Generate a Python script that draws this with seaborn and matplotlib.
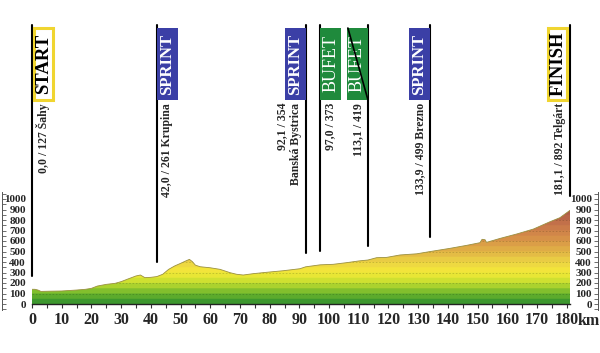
import numpy as np
import matplotlib.pyplot as plt
import seaborn as sns
from matplotlib.colors import LinearSegmentedColormap, ListedColormap, BoundaryNorm
from matplotlib.patches import Rectangle, PathPatch
from matplotlib.ticker import MultipleLocator

sns.set_theme(style="white")
plt.rcParams['font.family'] = ['Liberation Serif', 'DejaVu Serif']

# --- dados do perfil ---
km = [0, 1, 2, 3, 6, 10, 15, 18, 20, 22, 25, 28, 30, 32, 35, 36.5, 38, 40, 42,
      44, 46, 48, 50, 52, 53, 54, 55, 56.6, 60, 63.3, 66.7, 68.9, 71.1, 74.5,
      79, 84.6, 90.2, 92.1, 97, 101.4, 106, 110, 113.1, 116, 119.4, 123.9,
      129.5, 133.9, 140.7, 146.4, 150.8, 151.5, 152.5, 153, 157.6, 163.2,
      168.8, 174.4, 177.7, 181.1]
elev = [140, 140, 133, 120, 122, 124, 133, 140, 149, 171, 187, 197, 213, 235,
        267, 276, 251, 254, 261, 283, 330, 362, 387, 413, 425, 403, 370, 355,
        345, 330, 298, 283, 276, 289, 302, 317, 336, 354, 373, 378, 394, 410,
        419, 441, 444, 467, 478, 499, 530, 559, 584, 616, 612, 587, 625, 667,
        714, 784, 822, 892]

point_km = [0.0, 42.0, 92.1, 97.0, 113.1, 133.9, 181.1]
point_elev = [127, 261, 354, 373, 419, 499, 892]
point_kind = ['START', 'SPRINT', 'SPRINT', 'BUFET', 'BUFET', 'SPRINT', 'FINISH']
point_label = ['0,0 / 127 Šahy', '42,0 / 261 Krupina', '92,1 / 354\nBanská Bystrica',
               '97,0 / 373', '113,1 / 419', '133,9 / 499 Brezno', '181,1 / 892 Telgárt']
point_side = [1, 1, -1, 1, -1, -1, -1]

x_ticks = list(range(0, 181, 10))
y_ticks = list(range(0, 1001, 100))

# --- layout em pixels (600x353) ---
W, H = 600, 353
fig = plt.figure(figsize=(W / 100, H / 100), dpi=100)
fig.patch.set_facecolor('white')

x0, x1 = 32, 570        # 0 km .. 181.1 km
y0, y1 = 304, 199       # 0 m .. 1000 m
ax = fig.add_axes([x0 / W, (H - y0) / H, (x1 - x0) / W, (y0 - y1) / H])
ax.set_facecolor('none')

def py(ypx):
    # pixel vertical -> metros
    return (y0 - ypx) / ((y0 - y1) / 1000)

kmpx = (x1 - x0) / km[-1]

# preenchimento em faixas de altitude
anchors = ['#2f8f2f', '#6cb52c', '#c4de30', '#f5ea38', '#ecd444', '#e2b446',
           '#da9848', '#cf814a', '#bf6c4a', '#ab5a48', '#9a4e44']
base = LinearSegmentedColormap.from_list('perfil', anchors)
band_cmap = ListedColormap([base((i + 0.5) / 20) for i in range(20)])
levels = np.arange(0, 1001, 50)

poly = ax.fill_between(km, elev, 0, color='none', lw=0)
clip = PathPatch(poly.get_paths()[0], transform=ax.transData,
                 facecolor='none', edgecolor='none')
ax.add_patch(clip)
grad = np.linspace(0, 1000, 1000).reshape(-1, 1)
img = ax.imshow(grad, extent=[0, km[-1], 0, 1000], origin='lower', aspect='auto',
                cmap=band_cmap, norm=BoundaryNorm(levels, band_cmap.N), zorder=1)
img.set_clip_path(clip)
for lv in range(100, 1000, 100):
    ln = ax.axhline(lv, color='#000000', alpha=0.18, lw=0.6, ls=(0, (2, 2)), zorder=2)
    ln.set_clip_path(clip)

sns.lineplot(x=km, y=elev, ax=ax, color='#9a9040', lw=0.6, zorder=3)

ax.set_xlim(0, km[-1])
ax.set_ylim(0, 1000)
for s in ['left', 'right', 'top']:
    ax.spines[s].set_visible(False)
ax.spines['bottom'].set_color('#222222')
ax.spines['bottom'].set_linewidth(1.0)
ax.set_yticks([])
ax.set_xticks(x_ticks)
ax.set_xticklabels([str(t) for t in x_ticks], fontsize=11.5, fontweight='bold')
ax.xaxis.set_minor_locator(MultipleLocator(5))
ax.tick_params(axis='x', which='both', bottom=True, direction='out', length=3,
               width=0.8, color='#333333', pad=3)
fig.text(578 / W, (H - 321) / H, 'km', fontsize=11.5, fontweight='bold',
         ha='left', va='center')

# --- réguas laterais ---
ry0, ry1 = 310, 192
for side, xpx in [('left', 1.5), ('right', 597.5)]:
    r = fig.add_axes([xpx / W, (H - ry0) / H, 0.0001, (ry0 - ry1) / H])
    r.set_facecolor('none')
    r.set_ylim(py(ry0), py(ry1))
    r.set_xticks([])
    r.set_yticks(y_ticks)
    r.yaxis.set_minor_locator(MultipleLocator(50))
    for s in ['top', 'bottom', 'left', 'right']:
        r.spines[s].set_visible(False)
    if side == 'left':
        r.yaxis.tick_right()
        r.spines['right'].set_visible(True)
        r.spines['right'].set_color('#555555')
        r.spines['right'].set_linewidth(0.7)
        r.tick_params(axis='y', which='both', direction='out', length=3,
                      width=0.6, color='#555555', pad=14.5)
        for lab in r.get_yticklabels():
            lab.set_horizontalalignment('right')
    else:
        r.yaxis.tick_left()
        r.spines['left'].set_visible(True)
        r.spines['left'].set_color('#555555')
        r.spines['left'].set_linewidth(0.7)
        r.tick_params(axis='y', which='both', direction='out', length=3,
                      width=0.6, color='#555555', pad=1)
    r.set_yticklabels([str(t) for t in y_ticks], fontsize=8, fontweight='bold')

# --- marcadores ---
box_colors = {'START': 'white', 'FINISH': 'white', 'SPRINT': '#3b3fa6', 'BUFET': '#1f8a3c'}
box_top, box_bot = py(28), py(100)
line_top = py(25)
text_top = py(103)
box_w = 21 / kmpx
gap = 2 / kmpx

for i, (k, e, kind, lab, side) in enumerate(zip(point_km, point_elev, point_kind,
                                                  point_label, point_side)):
    ax.plot([k, k], [e + 135, line_top], color='black', lw=1.5, clip_on=False, zorder=5)
    if kind in ('START', 'FINISH'):
        bx = k + gap if side > 0 else k - box_w - gap * 0.3
        bw = box_w - gap
        rect = Rectangle((bx, box_bot), bw, box_top - box_bot, facecolor='white',
                         edgecolor='#f0d530', lw=2.2, clip_on=False, zorder=6)
        tcol, tw, fs = 'black', 'bold', 13.5
    else:
        bx = k if side > 0 else k - box_w
        bw = box_w
        rect = Rectangle((bx, box_bot), bw, box_top - box_bot,
                         facecolor=box_colors[kind], edgecolor='none',
                         clip_on=False, zorder=6)
        tcol = 'white'
        tw, fs = ('bold', 12) if kind == 'SPRINT' else ('normal', 13)
    ax.add_patch(rect)
    ax.text(bx + bw / 2, (box_top + box_bot) / 2, kind, rotation=90, ha='center',
            va='center', color=tcol, fontweight=tw, fontsize=fs, clip_on=False,
            zorder=7)
    if i == 4:
        ax.plot([bx + 0.3, bx + bw], [box_top, box_bot], color='black', lw=1.2,
                clip_on=False, zorder=8)
    tx = k + side * 1.3
    ax.text(tx, text_top, lab, rotation=90, ha='left' if side > 0 else 'right',
            va='top', multialignment='right', fontsize=8.5, fontweight='bold',
            linespacing=1.15, clip_on=False, zorder=7)

fig.savefig('out.png', dpi=100, facecolor='white')
